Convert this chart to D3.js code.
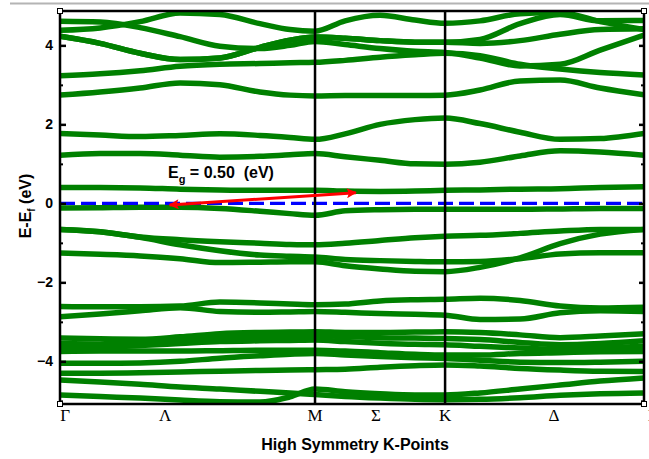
<!DOCTYPE html>
<html><head><meta charset="utf-8">
<script src="https://cdn.jsdelivr.net/npm/d3@7/dist/d3.min.js"></script>
<style>body{margin:0;background:#fff;} svg{display:block;}</style>
</head><body><svg id="c" width="649" height="459"></svg>
<script>
// ---- data ----
const kSamples = [0, 0.157, 0.314, 0.471, 0.627, 0.784, 0.902, 1.0, 1.118, 1.255, 1.392, 1.51, 1.647, 1.804, 1.961, 2.118, 2.29];
const kHigh = [1.0, 1.51];              // M, K vertical lines
const kDomain = [0, 2.29];
const eDomain = [-5.08, 4.87];
const xLabels = ["Γ", "Λ", "M", "Σ", "K", "Δ", "Γ"];
const xLabelK = [0.02, 0.412, 1.0, 1.239, 1.51, 1.937, 2.325];
const yMajor = [-4, -2, 0, 2, 4];
const yMinor = [-5, -3, -1, 1, 3];
const gapArrow = [[0.43, -0.04], [1.16, 0.27]];
const gapLabel = {main: "E", sub: "g", rest: " = 0.50  (eV)"};

const u1 = [4.38, 4.44, 4.60, 4.82, 4.78, 4.55, 4.40, 4.36, 4.62, 4.76, 4.64, 4.56, 4.62, 4.80, 4.83, 4.60, 4.40];
const u2 = [4.61, 4.59, 4.45, 4.22, 3.98, 3.92, 4.00, 4.10, 4.02, 3.92, 3.85, 3.82, 3.68, 3.48, 3.52, 3.88, 4.26];
const u3 = [4.23, 4.05, 3.80, 3.64, 3.68, 3.95, 4.13, 4.21, 4.18, 4.12, 4.08, 4.08, 4.15, 4.55, 4.78, 4.62, 4.63];
const u4 = [4.23, 4.05, 3.80, 3.64, 3.68, 3.95, 4.13, 4.21, 4.18, 4.12, 4.08, 4.08, 4.05, 4.12, 4.28, 4.40, 4.42];
const u5 = [3.23, 3.28, 3.36, 3.47, 3.52, 3.54, 3.56, 3.57, 3.62, 3.70, 3.76, 3.80, 3.74, 3.52, 3.40, 3.31, 3.25];
const cb4 = [2.74, 2.82, 2.92, 3.05, 3.00, 2.82, 2.74, 2.72, 2.73, 2.73, 2.73, 2.74, 2.87, 3.10, 3.12, 2.92, 2.75];
const cb3 = [1.77, 1.73, 1.69, 1.72, 1.76, 1.72, 1.67, 1.62, 1.76, 2.00, 2.12, 2.16, 2.02, 1.80, 1.62, 1.64, 1.77];
const cb2 = [1.22, 1.26, 1.26, 1.22, 1.17, 1.19, 1.23, 1.26, 1.18, 1.09, 1.00, 0.99, 1.04, 1.20, 1.33, 1.30, 1.22];
const cb1 = [0.40, 0.40, 0.39, 0.36, 0.34, 0.33, 0.33, 0.33, 0.31, 0.30, 0.31, 0.33, 0.34, 0.36, 0.37, 0.40, 0.42];
const vb1 = [-0.12, -0.11, -0.10, -0.10, -0.13, -0.20, -0.26, -0.30, -0.19, -0.16, -0.15, -0.15, -0.15, -0.15, -0.14, -0.13, -0.13];
const vb2a = [-0.66, -0.72, -0.85, -0.92, -0.97, -1.01, -1.04, -1.05, -1.01, -0.94, -0.87, -0.83, -0.81, -0.76, -0.70, -0.66, -0.66];
const vb2b = [-0.66, -0.72, -0.86, -1.05, -1.20, -1.31, -1.34, -1.36, -1.42, -1.45, -1.47, -1.48, -1.47, -1.40, -1.28, -1.25, -1.25];
const vb3 = [-1.26, -1.29, -1.33, -1.40, -1.50, -1.49, -1.48, -1.48, -1.58, -1.66, -1.72, -1.73, -1.62, -1.38, -1.02, -0.78, -0.66];
const vb4 = [-2.61, -2.62, -2.62, -2.60, -2.50, -2.52, -2.55, -2.57, -2.55, -2.47, -2.44, -2.43, -2.40, -2.46, -2.60, -2.65, -2.63];
const vb5 = [-2.87, -2.80, -2.72, -2.64, -2.74, -2.76, -2.75, -2.74, -2.76, -2.79, -2.81, -2.83, -2.94, -2.93, -2.77, -2.72, -2.74];
const vb6 = [-3.41, -3.43, -3.44, -3.38, -3.30, -3.27, -3.26, -3.25, -3.27, -3.27, -3.26, -3.25, -3.27, -3.33, -3.40, -3.36, -3.30];
const vb7 = [-3.55, -3.56, -3.50, -3.44, -3.40, -3.38, -3.36, -3.35, -3.37, -3.40, -3.41, -3.42, -3.45, -3.52, -3.58, -3.55, -3.48];
const vb8 = [-3.65, -3.64, -3.60, -3.55, -3.50, -3.48, -3.47, -3.46, -3.50, -3.54, -3.57, -3.58, -3.62, -3.66, -3.70, -3.66, -3.62];
const vb9 = [-3.75, -3.74, -3.74, -3.74, -3.73, -3.72, -3.72, -3.72, -3.74, -3.78, -3.82, -3.84, -3.84, -3.80, -3.78, -3.76, -3.75];
const vb10 = [-4.05, -4.05, -4.04, -4.00, -3.92, -3.86, -3.82, -3.80, -3.84, -3.88, -3.91, -3.93, -3.97, -4.02, -4.03, -4.02, -4.00];
const vb11 = [-4.30, -4.30, -4.29, -4.27, -4.25, -4.23, -4.22, -4.21, -4.20, -4.15, -4.11, -4.09, -4.12, -4.18, -4.22, -4.25, -4.26];
const vb12 = [-4.47, -4.52, -4.58, -4.65, -4.70, -4.76, -4.80, -4.84, -4.89, -4.93, -4.96, -4.97, -4.96, -4.92, -4.86, -4.82, -4.80];
const vb13 = [-4.85, -4.89, -4.93, -4.98, -5.02, -5.03, -4.90, -4.70, -4.77, -4.82, -4.85, -4.85, -4.80, -4.70, -4.60, -4.50, -4.42];

const bands = [u1, u2, u3, u4, u5, cb4, cb3, cb2, cb1, vb1, vb2a, vb2b, vb3, vb4, vb5, vb6, vb7, vb8, vb9, vb10, vb11, vb12, vb13];

// ---- drawing ----
const svg = d3.select("#c");
const L = 60, R = 644, T = 11, B = 404;
const x = d3.scaleLinear().domain(kDomain).range([L, R]);
const y = d3.scaleLinear().domain(eDomain).range([B, T]);

// top grey rule
svg.append("line").attr("x1", 10).attr("x2", 649).attr("y1", 3.5).attr("y2", 3.5)
  .attr("stroke", "#b4b4b4").attr("stroke-width", 2);

svg.append("defs").append("clipPath").attr("id", "clip")
  .append("rect").attr("x", L).attr("y", T).attr("width", R - L).attr("height", B - T);

const plot = svg.append("g").attr("clip-path", "url(#clip)");

const line = d3.line().x((d, i) => x(kSamples[i])).y(d => y(d)).curve(d3.curveMonotoneX);
plot.selectAll("path.band").data(bands).join("path")
  .attr("class", "band").attr("d", line)
  .attr("fill", "none").attr("stroke", "#008000").attr("stroke-width", 5.5)
  .attr("stroke-linejoin", "round");

// Fermi level
plot.append("line").attr("x1", x(kDomain[0])).attr("x2", x(kDomain[1]))
  .attr("y1", y(0)).attr("y2", y(0))
  .attr("stroke", "#0000ff").attr("stroke-width", 3.2).attr("stroke-dasharray", "15,6");

// high symmetry verticals
svg.selectAll("line.hs").data(kHigh).join("line").attr("class", "hs")
  .attr("x1", d => x(d)).attr("x2", d => x(d)).attr("y1", T).attr("y2", B)
  .attr("stroke", "#000").attr("stroke-width", 2.5);

// arrow
const defs = svg.select("defs");
defs.append("marker").attr("id", "ah").attr("viewBox", "0 0 10 10").attr("refX", 9).attr("refY", 5)
  .attr("markerUnits", "userSpaceOnUse").attr("markerWidth", 13).attr("markerHeight", 10)
  .attr("orient", "auto-start-reverse")
  .append("path").attr("d", "M0,0 L10,5 L0,10 L2,5 Z").attr("fill", "#ff0000");
svg.append("line")
  .attr("x1", x(gapArrow[0][0])).attr("y1", y(gapArrow[0][1]))
  .attr("x2", x(gapArrow[1][0])).attr("y2", y(gapArrow[1][1]))
  .attr("stroke", "#ff0000").attr("stroke-width", 3)
  .attr("marker-start", "url(#ah)").attr("marker-end", "url(#ah)");

// frame
svg.append("rect").attr("x", L).attr("y", T).attr("width", R - L).attr("height", B - T)
  .attr("fill", "none").attr("stroke", "#000").attr("stroke-width", 2.5);

// y axes
const font = "'Liberation Sans', Arial, sans-serif";
const yAxL = svg.append("g").attr("transform", `translate(${L},0)`)
  .call(d3.axisLeft(y).tickValues(yMajor).tickSizeInner(-6).tickSizeOuter(0).tickPadding(7).tickFormat(d3.format("d")));
yAxL.select(".domain").remove();
yAxL.selectAll(".tick line").attr("stroke-width", 2.5);
yAxL.selectAll("text").attr("font-family", font).attr("font-weight", "bold").attr("font-size", 14).attr("fill", "#000");

const yMinL = svg.append("g").attr("transform", `translate(${L},0)`)
  .call(d3.axisLeft(y).tickValues(yMinor).tickSizeInner(-3).tickSizeOuter(0).tickFormat(""));
yMinL.select(".domain").remove();
yMinL.selectAll(".tick line").attr("stroke-width", 2);

const yAxR = svg.append("g").attr("transform", `translate(${R},0)`)
  .call(d3.axisRight(y).tickValues(yMajor).tickSizeInner(-5).tickSizeOuter(0).tickFormat(""));
yAxR.select(".domain").remove();
yAxR.selectAll(".tick line").attr("stroke-width", 2.5);
const yMinR = svg.append("g").attr("transform", `translate(${R},0)`)
  .call(d3.axisRight(y).tickValues(yMinor).tickSizeInner(-3).tickSizeOuter(0).tickFormat(""));
yMinR.select(".domain").remove();
yMinR.selectAll(".tick line").attr("stroke-width", 2);

// corner markers
const corners = [[L, T], [R, T], [L, B], [R, B]];
svg.selectAll("rect.cm").data(corners).join("rect").attr("class", "cm")
  .attr("x", d => d[0] - 2.5).attr("y", d => d[1] - 2.5).attr("width", 5).attr("height", 5)
  .attr("fill", "#fff").attr("stroke", "#000").attr("stroke-width", 1);

// x labels
svg.selectAll("text.xl").data(xLabels).join("text").attr("class", "xl")
  .attr("x", (d, i) => x(xLabelK[i])).attr("y", 421)
  .attr("text-anchor", "middle").attr("font-family", "'Liberation Serif', 'Times New Roman', serif")
  .attr("font-size", 17).attr("fill", "#000").text(d => d);

// axis titles
svg.append("text").attr("x", 355).attr("y", 450).attr("text-anchor", "middle")
  .attr("font-family", font).attr("font-weight", "bold").attr("font-size", 16).text("High Symmetry K-Points");

const yt = svg.append("text").attr("transform", "translate(31,206) rotate(-90)").attr("text-anchor", "middle")
  .attr("font-family", font).attr("font-weight", "bold").attr("font-size", 16);
yt.append("tspan").text("E-E");
yt.append("tspan").attr("font-size", 10).attr("dy", 4).text("f");
yt.append("tspan").attr("dy", -4).text(" (eV)");

// gap label
const gt = svg.append("text").attr("x", 168).attr("y", 178)
  .attr("font-family", font).attr("font-weight", "bold").attr("font-size", 16);
gt.append("tspan").text(gapLabel.main);
gt.append("tspan").attr("font-size", 11).attr("dy", 5).text(gapLabel.sub);
gt.append("tspan").attr("dy", -5).attr("xml:space", "preserve").text(gapLabel.rest);
</script></body></html>
